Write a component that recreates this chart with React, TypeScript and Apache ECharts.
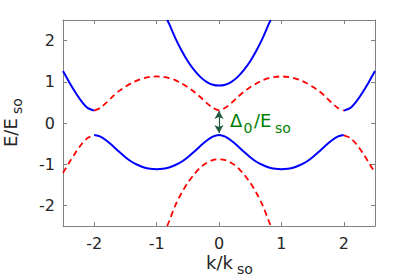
import React, { useEffect, useRef } from "react";
import * as echarts from "echarts";

// k/k_so sample positions and E/E_so values
const kInner = [-2.0, -1.9, -1.8, -1.7, -1.6, -1.5, -1.4, -1.3, -1.2, -1.1, -1.0, -0.9, -0.8, -0.7, -0.6, -0.5, -0.4, -0.3, -0.2, -0.1, 0.0, 0.1, 0.2, 0.3, 0.4, 0.5, 0.6, 0.7, 0.8, 0.9, 1.0, 1.1, 1.2, 1.3, 1.4, 1.5, 1.6, 1.7, 1.8, 1.9, 2.0];
const upperDashed = [0.30, 0.37, 0.50, 0.65, 0.78, 0.88, 0.97, 1.04, 1.09, 1.12, 1.13, 1.12, 1.09, 1.04, 0.96, 0.87, 0.76, 0.63, 0.49, 0.37, 0.31, 0.37, 0.49, 0.63, 0.76, 0.87, 0.96, 1.04, 1.09, 1.12, 1.13, 1.12, 1.09, 1.04, 0.97, 0.88, 0.78, 0.65, 0.50, 0.37, 0.30];
const lowerSolid = [-0.29, -0.33, -0.43, -0.56, -0.70, -0.83, -0.94, -1.02, -1.08, -1.11, -1.12, -1.11, -1.08, -1.02, -0.94, -0.83, -0.70, -0.56, -0.43, -0.33, -0.29, -0.33, -0.43, -0.56, -0.70, -0.83, -0.94, -1.02, -1.08, -1.11, -1.12, -1.11, -1.08, -1.02, -0.94, -0.83, -0.70, -0.56, -0.43, -0.33, -0.29];

const kCenter = [-0.83, -0.8, -0.7, -0.6, -0.5, -0.4, -0.3, -0.2, -0.1, 0.0, 0.1, 0.2, 0.3, 0.4, 0.5, 0.6, 0.7, 0.8, 0.83];
const upperCenterSolid = [2.5, 2.41, 2.06, 1.76, 1.50, 1.29, 1.12, 1.00, 0.93, 0.91, 0.93, 1.00, 1.12, 1.29, 1.50, 1.76, 2.06, 2.41, 2.5];
const lowerCenterDashed = [-2.5, -2.39, -2.00, -1.70, -1.45, -1.25, -1.08, -0.97, -0.90, -0.88, -0.90, -0.97, -1.08, -1.25, -1.45, -1.70, -2.00, -2.39, -2.5];

const kLeftOuter = [-2.5, -2.4, -2.3, -2.2, -2.1, -2.0];
const upperLeftSolid = [1.26, 0.99, 0.74, 0.52, 0.36, 0.30];
const lowerLeftDashed = [-1.21, -0.96, -0.72, -0.51, -0.36, -0.30];

const kRightOuter = [2.0, 2.1, 2.2, 2.3, 2.4, 2.5];
const upperRightSolid = [0.30, 0.36, 0.52, 0.74, 0.99, 1.26];
const lowerRightDashed = [-0.30, -0.36, -0.51, -0.72, -0.96, -1.21];

const tickValues = [-2, -1, 0, 1, 2];
const gapArrow = [0.29, -0.24];

const BLUE = "#0000ff";
const RED = "#ff0000";
const AXIS = "#808080";
const TXT = "#262626";
const FONT = "DejaVu Sans";

const pair = (ks: number[], vs: number[]) => ks.map((k, i) => [k, vs[i]]);

function solid(name: string, ks: number[], vs: number[], extra: any = {}) {
  return {
    name, type: "line", data: pair(ks, vs), showSymbol: false, symbol: "none", smooth: 0.3,
    lineStyle: { color: BLUE, width: 2 }, xAxisIndex: 0, yAxisIndex: 0, ...extra,
  };
}
function dashed(name: string, ks: number[], vs: number[]) {
  return {
    name, type: "line", data: pair(ks, vs), showSymbol: false, symbol: "none", smooth: 0.3,
    lineStyle: { color: RED, width: 1.8, type: [6, 4] }, xAxisIndex: 0, yAxisIndex: 0,
  };
}

export default function App() {
  const ref = useRef<HTMLDivElement>(null);
  useEffect(() => {
    if (!ref.current) return;
    const chart = echarts.init(ref.current, null, { renderer: "svg" });
    const axisCommon = {
      type: "value", min: -2.5, max: 2.5,
      axisLine: { show: true, onZero: false, lineStyle: { color: AXIS, width: 1 } },
      axisTick: { show: true, inside: true, length: 4, customValues: tickValues, lineStyle: { color: AXIS } },
      splitLine: { show: false },
    };
    const labelStyle = { color: TXT, fontSize: 16, fontFamily: FONT, customValues: tickValues };
    const greenTxt = "#008000";
    chart.setOption({
      animation: false,
      backgroundColor: "#ffffff",
      grid: { left: 63, right: 40, top: 20, bottom: 51, containLabel: false, outerBoundsMode: "none" },
      xAxis: [
        { ...axisCommon, position: "bottom", axisLabel: { ...labelStyle, margin: 9 } },
        { ...axisCommon, position: "top", axisLabel: { show: false } },
      ],
      yAxis: [
        { ...axisCommon, position: "left", axisLabel: { ...labelStyle, margin: 8 } },
        { ...axisCommon, position: "right", axisLabel: { show: false } },
      ],
      series: [
        solid("upperLeft", kLeftOuter, upperLeftSolid),
        solid("upperRight", kRightOuter, upperRightSolid),
        solid("upperCenter", kCenter, upperCenterSolid),
        solid("lower", kInner, lowerSolid, {
          markLine: {
            silent: true, symbol: ["arrow", "arrow"], symbolSize: [7, 8],
            label: { show: false },
            lineStyle: { color: "#1f5c3f", width: 1.2, type: "solid" },
            data: [[{ coord: [0, gapArrow[0]] }, { coord: [0, gapArrow[1]] }]],
          },
        }),
        dashed("upper", kInner, upperDashed),
        dashed("lowerLeft", kLeftOuter, lowerLeftDashed),
        dashed("lowerRight", kRightOuter, lowerRightDashed),
        dashed("lowerCenter", kCenter, lowerCenterDashed),
      ],
      graphic: [
        // x axis title
        { type: "text", left: 206, top: 253, style: { text: "k/k", fontSize: 18, fontFamily: FONT, fill: TXT } },
        { type: "text", left: 237, top: 262, style: { text: "so", fontSize: 14, fontFamily: FONT, fill: TXT } },
        // y axis title (rotated)
        {
          type: "group", x: 0, y: 147, rotation: Math.PI / 2,
          children: [
            { type: "text", x: 0, y: 10.5, style: { text: "E/E", fontSize: 18, fontFamily: FONT, fill: TXT, verticalAlign: "middle", align: "left" } },
            { type: "text", x: 33, y: 17, style: { text: "so", fontSize: 14, fontFamily: FONT, fill: TXT, verticalAlign: "middle", align: "left" } },
          ],
        },
        // gap annotation
        { type: "text", x: 230, y: 120, style: { text: "Δ", fontSize: 18, fontFamily: FONT, fill: greenTxt, verticalAlign: "middle" } },
        { type: "text", x: 243.5, y: 128, style: { text: "0", fontSize: 14, fontFamily: FONT, fill: greenTxt, verticalAlign: "middle" } },
        { type: "text", x: 254, y: 120, style: { text: "/E", fontSize: 18, fontFamily: FONT, fill: greenTxt, verticalAlign: "middle" } },
        { type: "text", x: 275, y: 128, style: { text: "so", fontSize: 14, fontFamily: FONT, fill: greenTxt, verticalAlign: "middle" } },
      ],
    });
    return () => chart.dispose();
  }, []);
  return <div ref={ref} style={{ position: "fixed", left: 0, top: 0, width: 415, height: 277 }} />;
}
